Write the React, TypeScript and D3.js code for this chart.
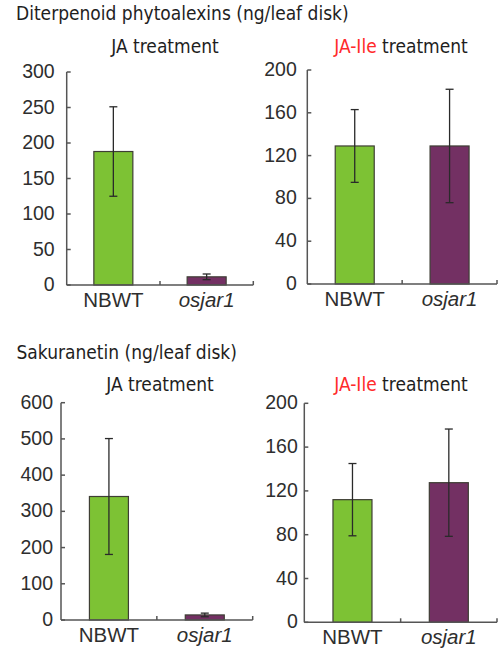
import React from "react";
import * as d3 from "d3";

const categories = ["NBWT", "osjar1"];
const diterpJAMean = [188, 11.5];
const diterpJAErr = [63, 4];
const diterpJAIleMean = [129, 129];
const diterpJAIleErr = [34, 53];
const sakuJAMean = [341, 14];
const sakuJAErr = [160, 5];
const sakuJAIleMean = [112, 127.5];
const sakuJAIleErr = [33, 49];
const diterpJATicks = [0, 50, 100, 150, 200, 250, 300];
const jaIleTicks = [0, 40, 80, 120, 160, 200];
const sakuJATicks = [0, 100, 200, 300, 400, 500, 600];

const colors = ["#7dc234", "#733063"];
const headFont = "'DejaVu Sans Condensed', 'DejaVu Sans', sans-serif";
const numFont = "'Liberation Sans', Arial, sans-serif";

type PanelProps = {
  x0: number; x1: number; yTop: number; yBottom: number;
  ticks: number[]; mean: number[]; err: number[];
  title: React.ReactNode; titleX: number; titleY: number; gap: number;
};

function Panel({ x0, x1, yTop, yBottom, ticks, mean, err, title, titleX, titleY, gap }: PanelProps) {
  const max = ticks[ticks.length - 1];
  const y = d3.scaleLinear().domain([0, max]).range([yBottom, yTop]);
  const x = d3.scaleBand().domain(categories).range([x0, x1]);
  const bw = 39;
  const axisColor = "#555";
  return (
    <g>
      <text x={titleX} y={titleY} textAnchor="middle" fontFamily={headFont} fontStretch="condensed" fontSize={19} fill="#1e1e1e">
        {title}
      </text>
      {categories.map((c, i) => {
        const cx = (x(c) as number) + x.bandwidth() / 2;
        const hi = y(mean[i] + err[i]);
        const lo = y(Math.max(0, mean[i] - err[i]));
        return (
          <g key={c}>
            <rect x={cx - bw / 2} y={y(mean[i])} width={bw} height={y(0) - y(mean[i])}
              fill={colors[i]} stroke="#3e3e34" strokeWidth={1.2} />
            <line x1={cx} x2={cx} y1={hi} y2={lo} stroke="#2a2a2a" strokeWidth={1.3} />
            <line x1={cx - 4} x2={cx + 4} y1={hi} y2={hi} stroke="#2a2a2a" strokeWidth={1.3} />
            <line x1={cx - 4} x2={cx + 4} y1={lo} y2={lo} stroke="#2a2a2a" strokeWidth={1.3} />
            <text x={cx} y={yBottom + 21.5} textAnchor="middle" fontFamily={numFont} fontSize={20.5}
              fontStyle={i === 1 ? "italic" : "normal"} fill="#2e2e2e">{c}</text>
          </g>
        );
      })}
      <line x1={x0} x2={x0} y1={yTop} y2={yBottom} stroke={axisColor} strokeWidth={1.5} />
      {ticks.map((t) => (
        <g key={t}>
          <line x1={x0} x2={x0 + 4} y1={y(t)} y2={y(t)} stroke={axisColor} strokeWidth={1.5} />
          <text x={x0 - gap} y={y(t) - 1} textAnchor="end" dominantBaseline="central" fontFamily={numFont} fontSize={19.5} fill="#2e2e2e">{t}</text>
        </g>
      ))}
      <line x1={x0} x2={x1} y1={yBottom} y2={yBottom} stroke={axisColor} strokeWidth={1.5} />
      {categories.map((c) => {
        const xe = (x(c) as number) + x.bandwidth();
        return <line key={c} x1={xe} x2={xe} y1={yBottom} y2={yBottom - 4} stroke={axisColor} strokeWidth={1.5} />;
      })}
    </g>
  );
}

const jaIleTitle = (
  <>
    <tspan fill="#ff2a2a">JA-Ile</tspan>
    <tspan fill="#1e1e1e"> treatment</tspan>
  </>
);

export default function App() {
  return (
    <svg width={502} height={650} style={{ position: "absolute", left: 0, top: 0, background: "#fff" }}>
      <text x={16} y={20} fontFamily={headFont} fontStretch="condensed" fontSize={19} fill="#1e1e1e">
        Diterpenoid phytoalexins (ng/leaf disk)
      </text>
      <Panel x0={66.7} x1={253.3} yTop={72} yBottom={285} ticks={diterpJATicks} mean={diterpJAMean} err={diterpJAErr}
        title="JA treatment" titleX={165} titleY={53} gap={12} />
      <Panel x0={307.3} x1={497} yTop={70} yBottom={284} ticks={jaIleTicks} mean={diterpJAIleMean} err={diterpJAIleErr}
        title={jaIleTitle} titleX={401} titleY={53} gap={10.5} />
      <text x={16.5} y={359} fontFamily={headFont} fontStretch="condensed" fontSize={19} fill="#1e1e1e">
        Sakuranetin (ng/leaf disk)
      </text>
      <Panel x0={61} x1={252.7} yTop={402.7} yBottom={620} ticks={sakuJATicks} mean={sakuJAMean} err={sakuJAErr}
        title="JA treatment" titleX={160} titleY={391} gap={8} />
      <Panel x0={304.3} x1={497} yTop={403.3} yBottom={622.3} ticks={jaIleTicks} mean={sakuJAIleMean} err={sakuJAIleErr}
        title={jaIleTitle} titleX={401} titleY={391} gap={6.5} />
    </svg>
  );
}
